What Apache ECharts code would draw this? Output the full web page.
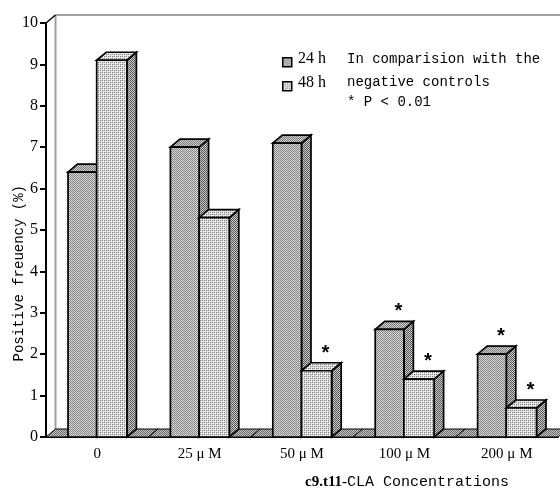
<!DOCTYPE html>
<html>
<head>
<meta charset="utf-8">
<script src="https://cdn.jsdelivr.net/npm/echarts@6/dist/echarts.min.js"></script>
<style>html,body{margin:0;padding:0;background:#fff}#c{width:560px;height:490px}</style>
</head>
<body>
<div id="c"></div>
<script>
// ---- data ----
const categories = ['0', '25 μ M', '50 μ M', '100 μ M', '200 μ M'];
const values24h = [6.4, 7.0, 7.1, 2.6, 2.0];
const values48h = [9.1, 5.3, 1.6, 1.4, 0.7];
const sig24h = [0, 0, 0, 1, 1];
const sig48h = [0, 0, 1, 1, 1];
const yTicks = [0, 1, 2, 3, 4, 5, 6, 7, 8, 9, 10];
const seriesNames = ['24 h', '48 h'];
const noteLines = ['In comparision with the', 'negative controls', '* P < 0.01'];

// ---- patterns ----
function pattern(size, fn) {
  const cv = document.createElement('canvas');
  cv.width = size; cv.height = size;
  const ctx = cv.getContext('2d');
  for (let y = 0; y < size; y++) for (let x = 0; x < size; x++) {
    ctx.fillStyle = fn(x, y); ctx.fillRect(x, y, 1, 1);
  }
  return { image: cv, repeat: 'repeat' };
}
const pat24 = pattern(4, (x, y) => ((x + y) % 2 === 0) ? '#858585' : ((x % 2 === 0) ? '#cfcfcf' : '#e2e2e2'));
const pat24top = pattern(4, (x, y) => ((x + y) % 2 === 0) ? '#7a7a7a' : '#d0d0d0');
const pat48 = pattern(4, (x, y) => (x % 2 === 0 && y % 2 === 0) ? '#8a8a8a' : ((x + y) % 4 === 1 ? '#c8c8c8' : '#eeeeee'));
const patSide = pattern(4, (x, y) => ((x + y) % 2 === 0) ? '#555555' : '#cccccc');
const patFloor = pattern(4, (x, y) => ((x + y) % 2 === 0) ? '#666666' : '#c8c8c8');

const DX = 9.5, DY = 8;
const faces = [
  { front: pat24, top: pat24top },
  { front: pat48, top: pat48 }
];

function barRenderer(si) {
  return function (params, api) {
    const ci = api.value(0), v = api.value(1), sig = api.value(2);
    const c = api.coord([ci, v]);
    const b = api.coord([ci, 0]);
    const band = api.size([1, 0])[0];
    let x0, x1;
    if (si === 0) { x0 = c[0] - 0.285 * band; x1 = c[0] - 0.005 * band; }
    else { x0 = c[0] - 0.005 * band; x1 = c[0] + 0.29 * band; }
    const top = c[1], base = b[1];
    const st = { stroke: '#000', lineWidth: 1.7, lineJoin: 'miter' };
    const children = [
      { type: 'polygon', shape: { points: [[x1, top], [x1 + DX, top - DY], [x1 + DX, base - DY], [x1, base]] },
        style: Object.assign({ fill: patSide }, st) },
      { type: 'polygon', shape: { points: [[x0, top], [x0 + DX, top - DY], [x1 + DX, top - DY], [x1, top]] },
        style: Object.assign({ fill: faces[si].top }, st) },
      { type: 'rect', shape: { x: x0, y: top, width: x1 - x0, height: base - top },
        style: Object.assign({ fill: faces[si].front }, st) }
    ];
    if (sig) {
      children.push({ type: 'text', style: { text: '*', x: (x0 + x1) / 2 + 9, y: top - 16,
        fill: '#000', font: 'bold 20px "Liberation Mono"', align: 'center', verticalAlign: 'middle' } });
    }
    return { type: 'group', children: children };
  };
}

function floorRenderer(params, api) {
  const ci = api.value(0);
  const b = api.coord([ci, 0]);
  const band = api.size([1, 0])[0];
  const xl = b[0] - band / 2, xr = b[0] + band / 2;
  return { type: 'polygon', shape: { points: [[xl, b[1]], [xl + DX, b[1] - DY], [xr + DX, b[1] - DY], [xr, b[1]]] },
    style: { fill: patFloor, stroke: '#000', lineWidth: 1 } };
}

function wallRenderer(params, api) {
  const cs = params.coordSys;
  const x = cs.x, y = cs.y, w = cs.width, h = cs.height;
  return { type: 'group', children: [
    { type: 'line', shape: { x1: x + DX, y1: y - DY, x2: x + w + DX, y2: y - DY }, style: { stroke: '#a0a0a0', lineWidth: 2 } },
    { type: 'line', shape: { x1: x + DX, y1: y - DY, x2: x + DX, y2: y + h - DY }, style: { stroke: '#a0a0a0', lineWidth: 2 } },
    { type: 'line', shape: { x1: x, y1: y, x2: x + DX, y2: y - DY }, style: { stroke: '#000', lineWidth: 1.5 } }
  ] };
}

const chart = echarts.init(document.getElementById('c'), null, { renderer: 'canvas' });
const legendItems = [];
seriesNames.forEach((n, i) => {
  legendItems.push({ type: 'rect', left: 282, top: 57 + i * 24, shape: { width: 9, height: 9 },
    style: { fill: faces[i].front, stroke: '#000', lineWidth: 1.5 } });
  legendItems.push({ type: 'text', left: 298, top: 51 + i * 24,
    style: { text: n, fill: '#000', font: '16px "Liberation Serif"' } });
});
noteLines.forEach((t, i) => {
  legendItems.push({ type: 'text', left: 347, top: 52 + i * 23 - (i === 2 ? 3 : 0),
    style: { text: t, fill: '#000', font: '14px "Liberation Mono"' } });
});
legendItems.push({ type: 'text', left: 12, top: 185, rotation: Math.PI / 2, originX: 0, originY: 0,
  style: { text: 'Positive freuency (%)', fill: '#000', font: '14px "Liberation Mono"', align: 'center', verticalAlign: 'middle' } });

chart.setOption({
  animation: false,
  backgroundColor: '#fff',
  grid: { left: 46, right: 2, top: 23, bottom: 53 },
  xAxis: {
    type: 'category', data: categories,
    axisLine: { lineStyle: { color: '#000', width: 2 } },
    axisTick: { show: false },
    axisLabel: { color: '#000', fontFamily: 'Liberation Serif', fontSize: 15, margin: 10 }
  },
  yAxis: {
    type: 'value', min: yTicks[0], max: yTicks[yTicks.length - 1], interval: 1,
    axisLine: { show: true, lineStyle: { color: '#000', width: 2 } },
    axisTick: { show: true, length: 6, lineStyle: { color: '#000', width: 2 } },
    axisLabel: { color: '#000', fontFamily: 'Liberation Serif', fontSize: 16, margin: 8 },
    splitLine: { show: false }
  },
  graphic: [
    { type: 'text', left: 305, top: 475, style: { rich: {
        a: { fontFamily: 'Liberation Serif', fontWeight: 'bold', fontSize: 15, fill: '#000' },
        b: { fontFamily: 'Liberation Mono', fontSize: 15, fill: '#000' } },
      text: '{a|c9.t11-}{b|CLA Concentrations}' } }
  ].concat(legendItems),
  series: [
    { type: 'custom', name: 'wall', clip: false, silent: true, renderItem: wallRenderer, data: [[0, 10]], z: 1 },
    { type: 'custom', name: 'floor', clip: false, silent: true, renderItem: floorRenderer,
      data: categories.map((c, i) => [i, 0]), z: 2 },
    { type: 'custom', name: seriesNames[0], clip: false, renderItem: barRenderer(0), z: 3,
      encode: { x: 0, y: 1 }, data: values24h.map((v, i) => [i, v, sig24h[i]]) },
    { type: 'custom', name: seriesNames[1], clip: false, renderItem: barRenderer(1), z: 4,
      encode: { x: 0, y: 1 }, data: values48h.map((v, i) => [i, v, sig48h[i]]) }
  ]
});
</script>
</body>
</html>
